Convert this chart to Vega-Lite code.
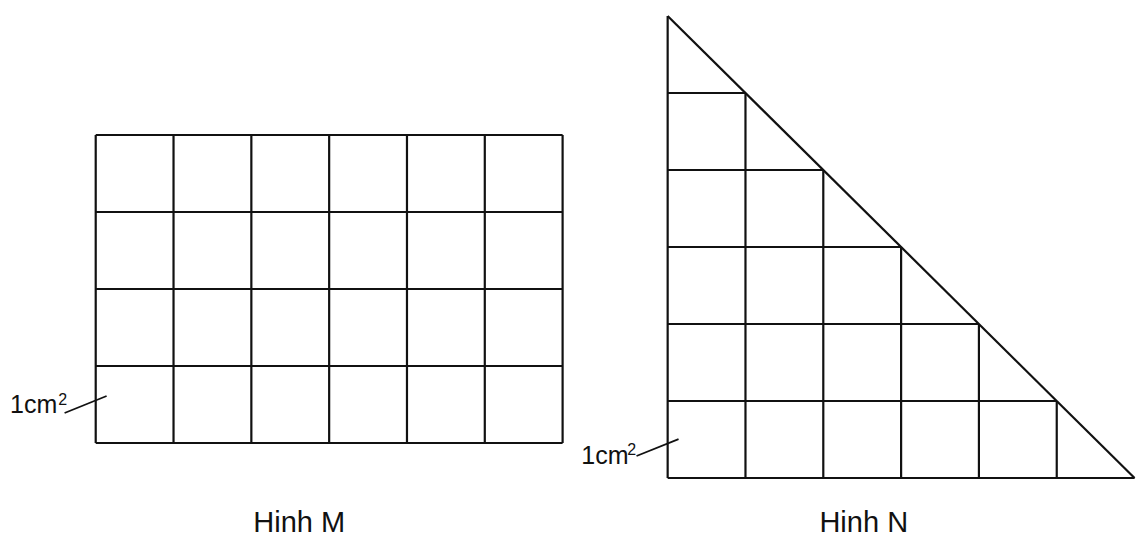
{
  "$schema": "https://vega.github.io/schema/vega-lite/v6.json",
  "width": 1136,
  "height": 543,
  "autosize": {"type": "fit", "contains": "padding"},
  "padding": 0,
  "background": "white",
  "config": {"view": {"stroke": null}},
  "datasets": {
    "segments": [
      {"x": 0, "y": 0.455, "x2": 0, "y2": 4.455},
      {"x": 1, "y": 0.455, "x2": 1, "y2": 4.455},
      {"x": 2, "y": 0.455, "x2": 2, "y2": 4.455},
      {"x": 3, "y": 0.455, "x2": 3, "y2": 4.455},
      {"x": 4, "y": 0.455, "x2": 4, "y2": 4.455},
      {"x": 5, "y": 0.455, "x2": 5, "y2": 4.455},
      {"x": 6, "y": 0.455, "x2": 6, "y2": 4.455},
      {"x": 0, "y": 0.455, "x2": 6, "y2": 0.455},
      {"x": 0, "y": 1.455, "x2": 6, "y2": 1.455},
      {"x": 0, "y": 2.455, "x2": 6, "y2": 2.455},
      {"x": 0, "y": 3.455, "x2": 6, "y2": 3.455},
      {"x": 0, "y": 4.455, "x2": 6, "y2": 4.455},
      {"x": 7.35, "y": 0, "x2": 7.35, "y2": 6},
      {"x": 7.35, "y": 0, "x2": 13.35, "y2": 0},
      {"x": 7.35, "y": 6, "x2": 13.35, "y2": 0},
      {"x": 7.35, "y": 1, "x2": 12.35, "y2": 1},
      {"x": 7.35, "y": 2, "x2": 11.35, "y2": 2},
      {"x": 7.35, "y": 3, "x2": 10.35, "y2": 3},
      {"x": 7.35, "y": 4, "x2": 9.35, "y2": 4},
      {"x": 7.35, "y": 5, "x2": 8.35, "y2": 5},
      {"x": 8.35, "y": 0, "x2": 8.35, "y2": 5},
      {"x": 9.35, "y": 0, "x2": 9.35, "y2": 4},
      {"x": 10.35, "y": 0, "x2": 10.35, "y2": 3},
      {"x": 11.35, "y": 0, "x2": 11.35, "y2": 2},
      {"x": 12.35, "y": 0, "x2": 12.35, "y2": 1}
    ],
    "leaders": [
      {"x": -0.40, "y": 0.844, "x2": 0.14, "y2": 1.065},
      {"x": 6.95, "y": 0.286, "x2": 7.49, "y2": 0.506}
    ],
    "labels": [
      {"x": -1.10, "y": 0.844, "text": "1cm"},
      {"x": 6.24, "y": 0.18, "text": "1cm"}
    ],
    "sups": [
      {"x": -0.48, "y": 0.948, "text": "2"},
      {"x": 6.83, "y": 0.30, "text": "2"}
    ],
    "titles": [
      {"x": 2.615, "y": -0.70, "text": "Hinh M"},
      {"x": 9.87, "y": -0.70, "text": "Hinh N"}
    ]
  },
  "encoding": {
    "x": {"field": "x", "type": "quantitative", "scale": {"domain": [-1.23, 13.33], "nice": false, "zero": false}, "axis": null},
    "y": {"field": "y", "type": "quantitative", "scale": {"domain": [-0.844, 6.208], "nice": false, "zero": false}, "axis": null}
  },
  "layer": [
    {
      "data": {"name": "segments"},
      "mark": {"type": "rule", "stroke": "#111111", "strokeWidth": 2.2},
      "encoding": {"x2": {"field": "x2"}, "y2": {"field": "y2"}}
    },
    {
      "data": {"name": "leaders"},
      "mark": {"type": "rule", "stroke": "#111111", "strokeWidth": 1.8},
      "encoding": {"x2": {"field": "x2"}, "y2": {"field": "y2"}}
    },
    {
      "data": {"name": "labels"},
      "mark": {"type": "text", "align": "left", "baseline": "alphabetic", "font": "Liberation Sans", "fontSize": 25, "fill": "#111111"},
      "encoding": {"text": {"field": "text"}}
    },
    {
      "data": {"name": "sups"},
      "mark": {"type": "text", "align": "left", "baseline": "alphabetic", "font": "Liberation Sans", "fontSize": 16, "fill": "#111111"},
      "encoding": {"text": {"field": "text"}}
    },
    {
      "data": {"name": "titles"},
      "mark": {"type": "text", "align": "center", "baseline": "alphabetic", "font": "Liberation Sans", "fontSize": 29, "fill": "#111111"},
      "encoding": {"text": {"field": "text"}}
    }
  ]
}
